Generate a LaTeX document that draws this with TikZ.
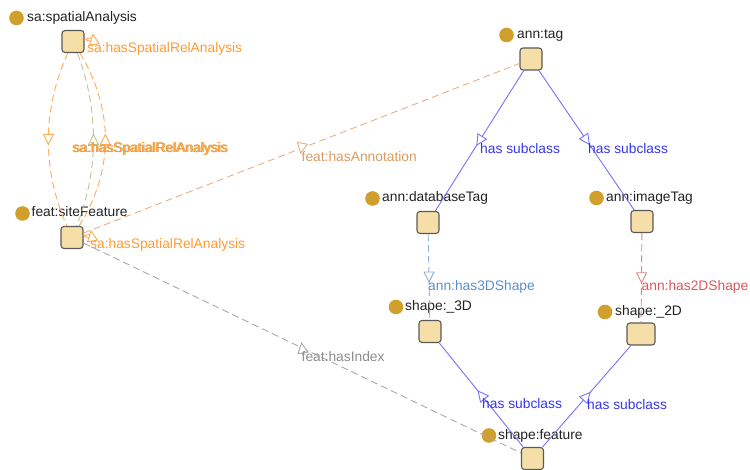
\documentclass[tikz,border=0pt]{standalone}
\usepackage{fontspec}
\setmainfont{Liberation Sans}
\usetikzlibrary{decorations.markings}

\definecolor{boxfill}{HTML}{F5DEA8}
\definecolor{boxdraw}{HTML}{5A5A5A}
\definecolor{dotc}{HTML}{D1A02C}
\definecolor{txt}{HTML}{222222}
\definecolor{subl}{HTML}{7373FF}
\definecolor{subt}{HTML}{3535F0}
\definecolor{orl}{HTML}{FFAA55}
\definecolor{ort}{HTML}{FF9A30}
\definecolor{olv}{HTML}{C2C29A}
\definecolor{tanl}{HTML}{E8AE84}
\definecolor{tant}{HTML}{D99C62}
\definecolor{bl3}{HTML}{8DB0D8}
\definecolor{bt3}{HTML}{5A8FCB}
\definecolor{rl2}{HTML}{E0848A}
\definecolor{rt2}{HTML}{D9575F}
\definecolor{gyl}{HTML}{AAAAAA}
\definecolor{gyt}{HTML}{8C8C8C}

\tikzset{
  cls/.style={draw=boxdraw, fill=boxfill, line width=1.1pt, rounded corners=3pt,
    minimum width=22pt, minimum height=22pt, inner sep=0pt},
  dotmark/.style={circle, fill=dotc, minimum size=14.6pt, inner sep=0pt},
  lbl/.style={anchor=west, inner sep=0pt, font=\fontsize{13.8}{16}\selectfont,
    text height=10pt, text depth=3pt},
  clsname/.style={lbl, text=txt},
  plainedge/.style={line width=0.9pt},
  dashedge/.style={dash pattern=on 7pt off 4pt, line width=0.9pt},
  % open triangle at the middle of an edge, with a fixed direction (#1) and colour (#2)
  midtri/.style n args={2}{postaction={decorate, decoration={markings,
    mark=at position 0.5 with {\pgftransformresetnontranslations\pgftransformrotate{#1}
      \draw[#2, solid, fill=white, line width=0.9pt] (5pt,0pt) -- (-5pt,5pt) -- (-5pt,-5pt) -- cycle;}}}},
}

\begin{document}
\begin{tikzpicture}[x=1pt, y=-1pt]
\useasboundingbox (0,0) rectangle (750,470);

% class boxes
\node[cls] (sa)   at (73,41.5)   {};
\node[cls] (site) at (72,237.5)  {};
\node[cls] (tag)  at (531,59)    {};
\node[cls] (db)   at (428,222.5) {};
\node[cls] (img)  at (642,221.5) {};
\node[cls] (s3d)  at (430,331.5) {};
\node[cls, minimum width=28pt] (s2d) at (641,334) {};
\node[cls] (feat) at (532.5,458.5) {};

% class names with their markers
\node[dotmark] (dsa)   at (16.5,18)   {};
\node[clsname] (nsa)   at (27,18)     {sa:spatialAnalysis};
\node[dotmark] (dsite) at (22.5,213.5) {};
\node[clsname] (nsite) at (31.5,213.5) {feat:siteFeature};
\node[dotmark] (dtag)  at (506.5,35)  {};
\node[clsname] (ntag)  at (517,35)    {ann:tag};
\node[dotmark] (ddb)   at (372.5,198.5) {};
\node[clsname] (ndb)   at (382,198.5) {ann:databaseTag};
\node[dotmark] (dimg)  at (596.5,198) {};
\node[clsname] (nimg)  at (606,198)   {ann:imageTag};
\node[dotmark] (ds3d)  at (396,307)   {};
\node[clsname] (ns3d)  at (405,307)   {shape:\_3D};
\node[dotmark] (ds2d)  at (605,312)   {};
\node[clsname] (ns2d)  at (615,312)   {shape:\_2D};
\node[dotmark] (dfeat) at (489,435.5) {};
\node[clsname] (nfeat) at (498,435.5) {shape:feature};

% subclass links
\draw[plainedge, subl, midtri={-122}{subl}] (tag) -- (db);
\draw[plainedge, subl, midtri={-55.7}{subl}] (tag) -- (img);
\draw[plainedge, subl, midtri={128.9}{subl}] (feat) -- (s3d);
\draw[plainedge, subl, midtri={48.9}{subl}] (feat) -- (s2d);
\node[lbl, text=subt] (l1) at (480,150) {has subclass};
\node[lbl, text=subt] (l2) at (588,150) {has subclass};
\node[lbl, text=subt] (l3) at (482,405) {has subclass};
\node[lbl, text=subt] (l4) at (587,406) {has subclass};

% object properties
\draw[dashedge, bl3, midtri={-90}{bl3}] (db) -- (s3d);
\node[lbl, text=bt3] (l5) at (428,287) {ann:has3DShape};
\draw[dashedge, rl2, midtri={-90}{rl2}] (img) -- (s2d);
\node[lbl, text=rt2] (l6) at (641.5,287) {ann:has2DShape};
\draw[dashedge, tanl, midtri={-100}{tanl}] (site) -- (tag);
\node[lbl, text=tant] (l7) at (301.5,158.5) {feat:hasAnnotation};
\draw[dashedge, gyl, midtri={98}{gyl}] (site) -- (feat);
\node[lbl, text=gyt] (l8) at (301.5,358.5) {feat:hasIndex};

% spatial relation links between the two upper-left classes
\draw[dashedge, orl, midtri={-90}{orl}] (sa) .. controls (42,110) and (42,170) .. (site);
\draw[dashedge, olv, midtri={90}{olv}] (sa) .. controls (99,110) and (99,170) .. (site);
\draw[dashedge, orl, midtri={90}{orl}] (sa) .. controls (114,110) and (114,170) .. (site);
\node[lbl, text=olv] (l9) at (73.5,149) {sa:hasSpatialRelAnalysis};
\node[lbl, text=ort, opacity=0.7] (l10) at (72.8,149) {sa:hasSpatialRelAnalysis};
\node[lbl, text=ort] (l11) at (72,149) {sa:hasSpatialRelAnalysis};

% self links
\draw[dashedge, orl, midtri={98}{orl}] ([yshift=2pt]sa.east) .. controls +(12,-5) and +(12,5) .. ([yshift=2pt]sa.east);
\node[lbl, text=ort] (l12) at (87,49.5) {sa:hasSpatialRelAnalysis};
\draw[dashedge, orl, midtri={98}{orl}] ([yshift=1.5pt]site.east) .. controls +(11,-5) and +(11,5) .. ([yshift=1.5pt]site.east);
\node[lbl, text=ort] (l13) at (90,245) {sa:hasSpatialRelAnalysis};
\end{tikzpicture}
\end{document}
